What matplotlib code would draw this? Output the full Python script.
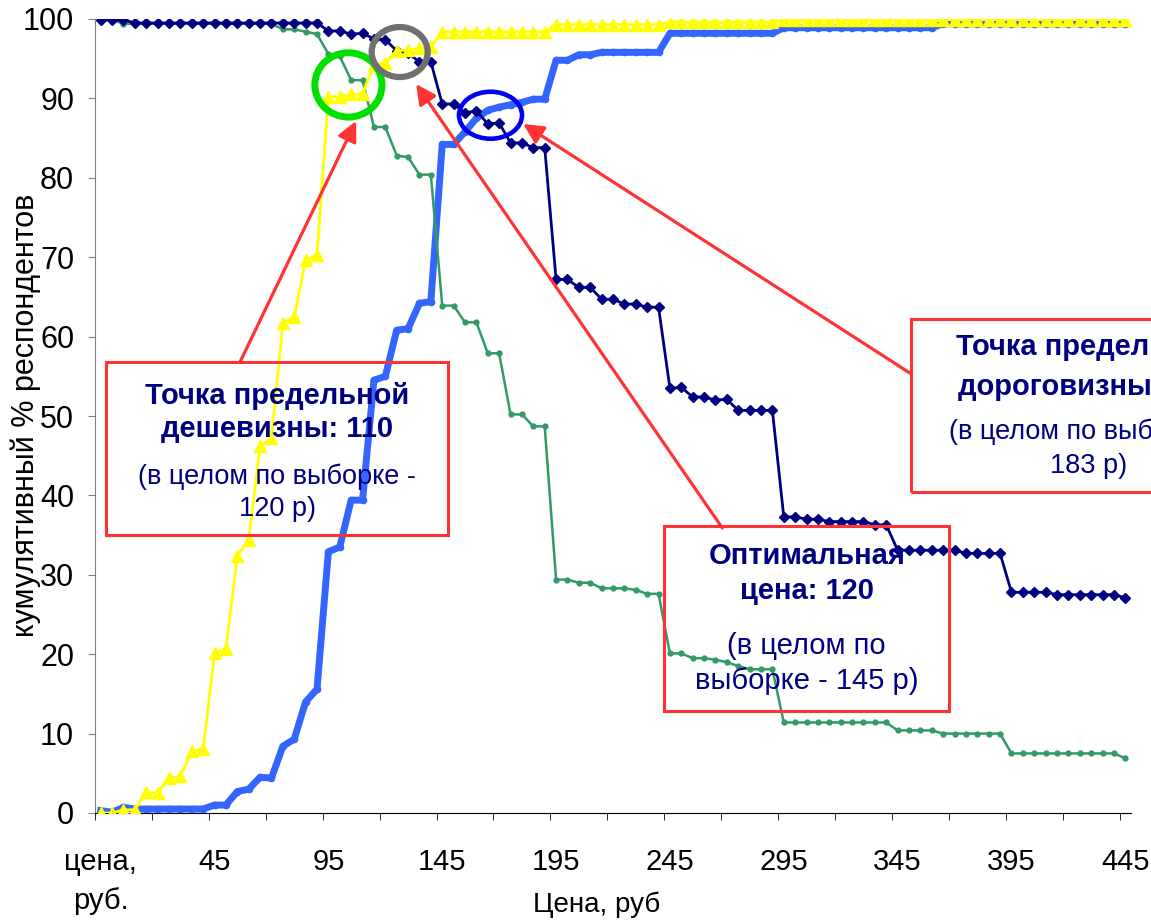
import matplotlib
matplotlib.use("Agg")
import matplotlib.pyplot as plt
from matplotlib.patches import Ellipse, Rectangle
import numpy as np

plt.rcParams['font.family'] = ['Liberation Sans', 'DejaVu Sans']

# categories: first one is the header cell, then 0, 5, ... 445 rub
tick_positions = [0, 10, 20, 30, 40, 50, 60, 70, 80, 90]
tick_labels = ["цена,\nруб.", "45", "95", "145", "195", "245", "295", "345", "395", "445"]

too_expensive = [99.9, 99.9, 99.9, 99.5, 99.5, 99.5, 99.5, 99.5, 99.5, 99.5,
                 99.5, 99.5, 99.5, 99.5, 99.5, 99.5, 99.5, 99.5, 99.5, 99.5,
                 98.5, 98.5, 98.1, 98.2, 97.5, 97.4, 96.0, 95.7, 94.6, 94.6,
                 89.3, 89.3, 88.2, 88.4, 86.8, 86.9, 84.4, 84.4, 83.8, 83.8,
                 67.2, 67.2, 66.2, 66.2, 64.7, 64.7, 64.1, 64.1, 63.7, 63.7,
                 53.5, 53.6, 52.4, 52.4, 52.0, 52.1, 50.7, 50.7, 50.7, 50.7,
                 37.3, 37.3, 37.0, 37.0, 36.7, 36.7, 36.7, 36.7, 36.3, 36.3,
                 33.1, 33.1, 33.1, 33.1, 33.1, 33.1, 32.7, 32.7, 32.7, 32.7,
                 27.8, 27.8, 27.8, 27.8, 27.5, 27.5, 27.5, 27.5, 27.5, 27.5,
                 27.1]

expensive = [99.9, 99.9, 99.4, 99.4, 99.4, 99.4, 99.4, 99.4, 99.4, 99.4,
             99.4, 99.4, 99.4, 99.4, 99.4, 99.4, 98.7, 98.7, 98.4, 98.1,
             95.6, 95.3, 92.3, 92.3, 86.4, 86.4, 82.8, 82.6, 80.4, 80.4,
             63.9, 63.9, 61.8, 61.8, 57.9, 57.9, 50.2, 50.2, 48.7, 48.7,
             29.4, 29.4, 29.0, 29.0, 28.3, 28.3, 28.3, 28.1, 27.6, 27.6,
             20.1, 20.1, 19.5, 19.5, 19.3, 19.0, 18.5, 18.1, 18.1, 18.1,
             11.4, 11.4, 11.4, 11.4, 11.4, 11.4, 11.4, 11.4, 11.4, 11.4,
             10.4, 10.4, 10.4, 10.4, 10.0, 10.0, 10.0, 10.0, 10.0, 10.0,
             7.5, 7.5, 7.5, 7.5, 7.5, 7.5, 7.5, 7.5, 7.5, 7.5,
             6.9]

too_cheap = [0.0, 0.0, 0.4, 0.4, 2.6, 2.5, 4.4, 4.6, 7.8, 8.1,
             20.1, 20.7, 32.4, 34.4, 46.2, 47.2, 61.7, 62.5, 69.6, 70.3,
             90.2, 90.2, 90.5, 90.6, 94.2, 94.5, 96.0, 96.1, 96.3, 96.5,
             98.4, 98.4, 98.4, 98.4, 98.4, 98.4, 98.4, 98.4, 98.4, 98.4,
             99.3, 99.3, 99.3, 99.3, 99.3, 99.3, 99.3, 99.3, 99.3, 99.3,
             99.6, 99.6, 99.6, 99.6, 99.6, 99.6, 99.6, 99.6, 99.6, 99.6,
             99.9, 99.9, 99.9, 99.9, 99.9, 99.9, 99.9, 99.9, 99.9, 99.9,
             99.9, 99.9, 99.9, 99.9, 99.9, 99.9, 99.9, 99.9, 99.9, 99.9,
             99.9, 99.9, 99.9, 99.9, 99.9, 99.9, 99.9, 99.9, 99.9, 99.9,
             99.9]

cheap = [0.3, 0.1, 0.7, 0.5, 0.5, 0.5, 0.5, 0.5, 0.5, 0.5,
         1.0, 1.0, 2.7, 3.0, 4.5, 4.4, 8.4, 9.3, 14.0, 15.6,
         32.9, 33.5, 39.4, 39.4, 54.5, 55.0, 60.8, 61.0, 64.2, 64.4,
         84.2, 84.2, 85.8, 87.5, 88.5, 88.9, 89.2, 89.5, 89.9, 89.9,
         94.8, 94.8, 95.5, 95.5, 95.8, 95.8, 95.8, 95.8, 95.8, 95.8,
         98.2, 98.2, 98.2, 98.2, 98.2, 98.2, 98.2, 98.2, 98.2, 98.2,
         98.9, 98.9, 98.9, 98.9, 98.9, 98.9, 98.9, 98.9, 98.9, 98.9,
         98.9, 98.9, 98.9, 98.9, 99.4, 99.4, 99.4, 99.4, 99.4, 99.4,
         99.4, 99.4, 99.4, 99.4, 99.4, 99.4, 99.4, 99.4, 99.4, 99.4,
         99.4]

x = np.arange(len(too_expensive))

red = '#FF3333'
navy_txt = '#000080'

fig = plt.figure(figsize=(11.51, 9.23), dpi=100)
ax = fig.add_axes([95 / 1151, 110 / 923, 1036 / 1151, 794 / 923])

ax.plot(x, cheap, color='#3366FF', lw=5, marker='o', ms=4.5, zorder=2)
ax.plot(x, expensive, color='#339966', lw=1.8, marker='o', ms=3.5, zorder=3)
ax.plot(x, too_expensive, color='#000080', lw=2, marker='D', ms=5.5, zorder=4)
ax.plot(x, too_cheap, color='#FFFF00', lw=2, marker='^', ms=8, zorder=5)

ax.set_xlim(-0.5, 90.5)
ax.set_ylim(0, 100)

ax.spines['top'].set_visible(False)
ax.spines['right'].set_visible(False)
ax.spines['left'].set_color('#808080')
ax.spines['bottom'].set_color('black')

ax.set_yticks(range(0, 101, 10))
ax.tick_params(axis='y', direction='out', length=5, color='#808080', labelsize=22, pad=10)
ax.set_xticks(tick_positions)
ax.set_xticklabels(tick_labels)
ax.set_xticks(np.arange(-0.5, 91, 5), minor=True)
ax.tick_params(axis='x', which='major', length=0, labelsize=21, pad=25)
ax.tick_params(axis='x', which='minor', direction='out', length=5, color='black')
for lbl in ax.get_xticklabels():
    lbl.set_linespacing(1.5)

fig.text(597 / 1151, 1 - 905 / 923, "Цена, руб", ha='center', va='center', fontsize=20)
fig.text(26 / 1151, 1 - 415 / 923, "кумулятивный % респондентов", rotation=90,
         ha='center', va='center', fontsize=22)

# highlighted intersections
ax.add_patch(Ellipse((21.76, 91.7), 5.9, 8.1, fill=False, ec='#00E000', lw=5, zorder=6))
ax.add_patch(Ellipse((26.26, 95.84), 4.92, 6.3, fill=False, ec='#707070', lw=4.5, zorder=6, clip_on=False))
ax.add_patch(Ellipse((34.24, 87.88), 5.54, 5.92, fill=False, ec='#0000EE', lw=3.3, zorder=6))

# callout boxes
ax.add_patch(Rectangle((0.47, 35.0), 30.05, 21.8, fill=False, ec=red, lw=2.2, zorder=6))
ax.add_patch(Rectangle((71.2, 40.4), 31.1, 21.8, fill=False, ec=red, lw=2.2, zorder=6, clip_on=False))
ax.add_patch(Rectangle((49.5, 12.85), 25.05, 23.3, fill=False, ec=red, lw=2.2, zorder=6))

arrow = dict(arrowstyle='-|>', mutation_scale=30, lw=2.3, color=red, shrinkA=0, shrinkB=0)
ax.annotate("", xy=(22.43, 87.15), xytext=(12.24, 56.8), arrowprops=arrow, zorder=7)
ax.annotate("", xy=(27.71, 91.81), xytext=(54.6, 35.9), arrowprops=arrow, zorder=7)
ax.annotate("", xy=(37.11, 86.78), xytext=(71.2, 55.3), arrowprops=arrow, zorder=7)

bold = dict(ha='center', va='center', fontsize=21, fontweight='bold', color=navy_txt, zorder=8)
norm = dict(ha='center', va='center', fontsize=19.5, color=navy_txt, zorder=8)
norm3 = dict(norm, fontsize=21)

ax.text(15.49, 52.5, "Точка предельной", **bold)
ax.text(15.49, 48.36, "дешевизны: 110", **bold)
ax.text(15.49, 42.3, "(в целом по выборке -", **norm)
ax.text(15.49, 38.3, "120 р)", **norm)

# the reference callout runs past the right edge of the picture
ax.text(86.76, 58.69, "Точка предельной", **bold)
ax.text(86.76, 53.65, "дороговизны: 170", **bold)
ax.text(86.76, 47.98, "(в целом по выборке -", **norm)
ax.text(86.76, 43.7, "183 р)", **norm)

ax.text(62.02, 32.37, "Оптимальная", **bold)
ax.text(62.02, 27.96, "цена: 120", **bold)
ax.text(62.02, 21.03, "(в целом по", **norm3)
ax.text(62.02, 16.62, "выборке - 145 р)", **norm3)

fig.savefig("out.png", dpi=100)
